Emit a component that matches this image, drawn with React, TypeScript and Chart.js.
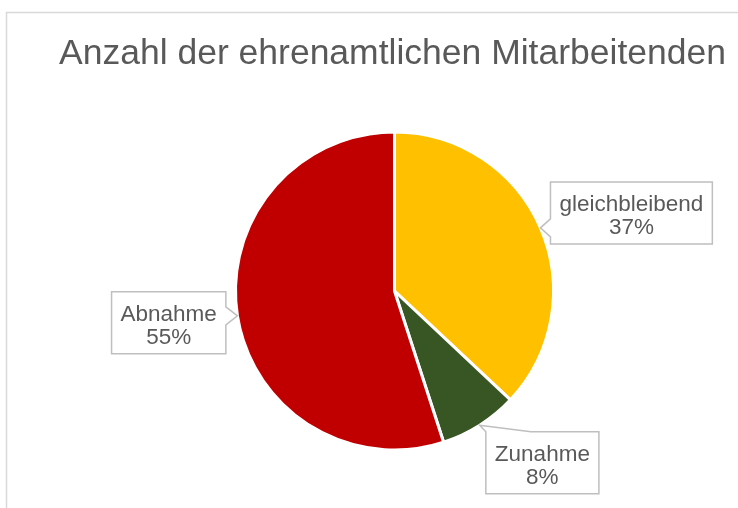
import React, { useEffect, useRef } from "react";
import { Chart, registerables } from "chart.js";

Chart.register(...registerables);

const TITLE = "Anzahl der ehrenamtlichen Mitarbeitenden";
const CATEGORIES = ["gleichbleibend", "Zunahme", "Abnahme"];
const VALUES = [37, 8, 55];
const COLORS = ["#FFC000", "#375623", "#C00000"];
// label box centres relative to the pie centre, in units of the pie radius
const LABEL_DX = [1.49, 0.93, -1.42];
const LABEL_DY = [-0.49, 1.08, 0.2];

const FONT = "'Liberation Sans', Arial, sans-serif";
const TEXT_COLOR = "#595959";

const overlayPlugin = {
  id: "overlay",
  afterDraw(chart: any) {
    const ctx = chart.ctx as CanvasRenderingContext2D;
    ctx.save();
    // frame
    ctx.strokeStyle = "#D9D9D9";
    ctx.lineWidth = 1.5;
    ctx.strokeRect(6.5, 12.5, 900, 700);

    // title
    ctx.fillStyle = TEXT_COLOR;
    ctx.font = `35.5px ${FONT}`;
    ctx.textAlign = "center";
    ctx.textBaseline = "alphabetic";
    ctx.fillText(TITLE, 392.5, 64);

    const meta = chart.getDatasetMeta(0);
    const total = VALUES.reduce((a, b) => a + b, 0);
    meta.data.forEach((arc: any, i: number) => {
      const { x, y, startAngle, endAngle, outerRadius } = arc.getProps(
        ["x", "y", "startAngle", "endAngle", "outerRadius"],
        true
      );
      const mid = (startAngle + endAngle) / 2;
      const tip = { x: x + Math.cos(mid) * outerRadius, y: y + Math.sin(mid) * outerRadius };
      const line1 = CATEGORIES[i];
      const line2 = Math.round((VALUES[i] / total) * 100) + "%";
      ctx.font = `22.5px ${FONT}`;
      const tw = Math.max(ctx.measureText(line1).width, ctx.measureText(line2).width);
      const w = tw + 18;
      const h = 62;
      const cx = x + LABEL_DX[i] * outerRadius;
      const cy = y + LABEL_DY[i] * outerRadius;
      const l = cx - w / 2, r = cx + w / 2, t = cy - h / 2, b = cy + h / 2;

      let side: string;
      if (tip.x < l && tip.y >= t && tip.y <= b) side = "left";
      else if (tip.x > r && tip.y >= t && tip.y <= b) side = "right";
      else if (tip.y < t) side = "top";
      else side = "bottom";

      const pts: [number, number][] = [];
      if (side === "top") {
        const c = Math.min(Math.max(tip.x, l), r);
        const x1 = Math.max(l, c - 20);
        const x2 = Math.min(r, x1 + 45);
        pts.push([l, t], [x1, t], [tip.x, tip.y], [x2, t], [r, t], [r, b], [l, b]);
      } else if (side === "bottom") {
        const c = Math.min(Math.max(tip.x, l), r);
        const x1 = Math.max(l, c - 20);
        const x2 = Math.min(r, x1 + 45);
        pts.push([l, t], [r, t], [r, b], [x2, b], [tip.x, tip.y], [x1, b], [l, b]);
      } else if (side === "left") {
        const y1 = Math.max(t, tip.y - 9);
        const y2 = Math.min(b, tip.y + 9);
        pts.push([l, t], [r, t], [r, b], [l, b], [l, y2], [tip.x, tip.y], [l, y1]);
      } else {
        const y1 = Math.max(t, tip.y - 9);
        const y2 = Math.min(b, tip.y + 9);
        pts.push([l, t], [r, t], [r, y1], [tip.x, tip.y], [r, y2], [r, b], [l, b]);
      }
      ctx.beginPath();
      pts.forEach(([px, py], k) => (k === 0 ? ctx.moveTo(px, py) : ctx.lineTo(px, py)));
      ctx.closePath();
      ctx.fillStyle = "#FFFFFF";
      ctx.fill();
      ctx.strokeStyle = "#BFBFBF";
      ctx.lineWidth = 1.5;
      ctx.stroke();

      ctx.fillStyle = TEXT_COLOR;
      ctx.textAlign = "center";
      ctx.textBaseline = "alphabetic";
      ctx.fillText(line1, cx, cy - 2);
      ctx.fillText(line2, cx, cy + 21);
    });
    ctx.restore();
  },
};

export default function App() {
  const ref = useRef<HTMLCanvasElement | null>(null);
  useEffect(() => {
    if (!ref.current) return;
    const chart = new Chart(ref.current, {
      type: "pie",
      data: {
        labels: CATEGORIES,
        datasets: [
          {
            data: VALUES,
            backgroundColor: COLORS,
            borderColor: "#FFFFFF",
            borderWidth: 3,
          },
        ],
      },
      options: {
        responsive: false,
        animation: false,
        devicePixelRatio: 1,
        layout: { padding: { left: 234, right: 183, top: 130, bottom: 56 } },
        plugins: {
          legend: { display: false },
          tooltip: { enabled: false },
          title: { display: false },
        },
      },
      plugins: [overlayPlugin],
    });
    return () => chart.destroy();
  }, []);
  return (
    <div style={{ position: "absolute", left: 0, top: 0, width: 738, height: 508, background: "#fff" }}>
      <canvas ref={ref} width={738} height={508} style={{ display: "block" }} />
    </div>
  );
}
